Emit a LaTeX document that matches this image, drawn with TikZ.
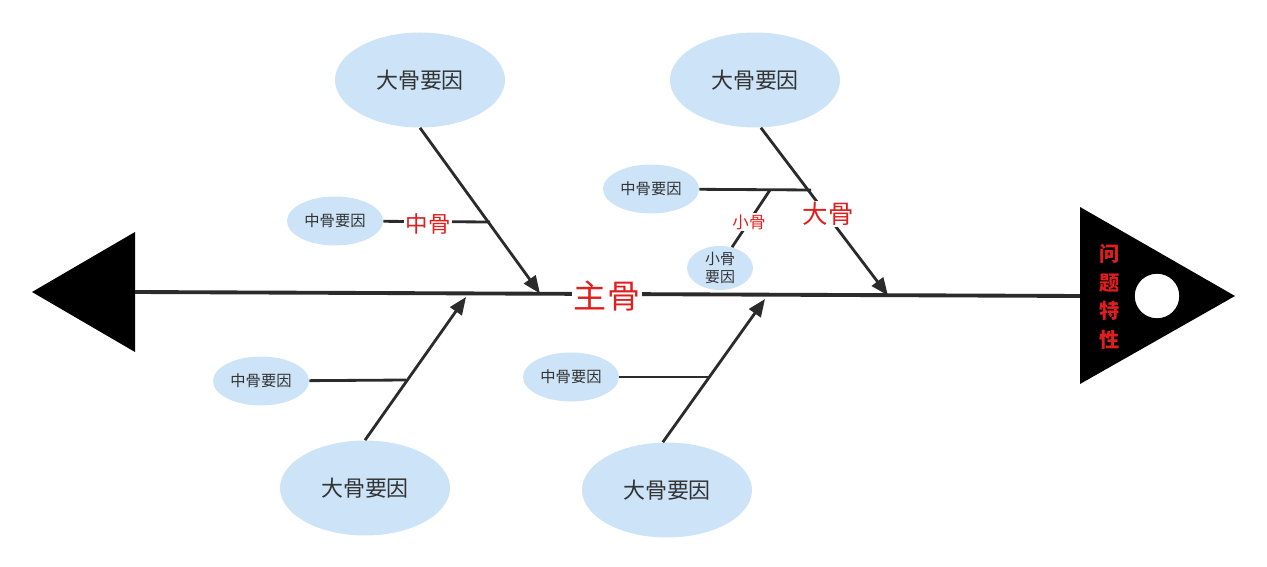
\documentclass[tikz,border=0pt]{standalone}
\usepackage{fontspec}
\setmainfont{Noto Sans CJK SC}
\usetikzlibrary{arrows.meta,shapes.geometric}
\definecolor{txt}{HTML}{333333}
\definecolor{bone}{HTML}{2B2B2B}
\definecolor{cred}{HTML}{E01E1E}
\definecolor{ellfill}{HTML}{CCE3F8}
\tikzset{
  bigcause/.style={ellipse, fill=ellfill, inner sep=0pt, minimum width=170\pxu, minimum height=95\pxu, text=txt, font=\fontsize{12.5}{15}\selectfont},
  midcause/.style={ellipse, fill=ellfill, inner sep=0pt, minimum width=96\pxu, minimum height=49\pxu, text=txt, font=\fontsize{8.7}{10}\selectfont},
  smallcause/.style={ellipse, fill=ellfill, inner sep=0pt, minimum width=66\pxu, minimum height=40\pxu, text=txt, align=center, font=\fontsize{8.5}{10}\selectfont},
  boneline/.style={draw=bone, line width=1.6pt},
  bonearrow/.style={boneline, -{Triangle[length=10pt,width=8pt]}},
  bonelabel/.style={fill=white, inner sep=1pt, text=cred},
}
\newlength{\pxu}
\setlength{\pxu}{0.02cm}
\begin{document}
\begin{tikzpicture}[x=0.02cm,y=-0.02cm]
\useasboundingbox (0,0) rectangle (1267,567);
% head and tail
\fill[black] (32,292) -- (135,232) -- (135,352) -- cycle;
\fill[black] (1080,207) -- (1080,384) -- (1235,296) -- cycle;
\node[circle, fill=white, draw=black, line width=0.8pt, minimum size=46\pxu, inner sep=0pt] (eye) at (1157,296) {};
\node[text=cred, font=\fontsize{11.5}{16.2}\selectfont\bfseries, align=center] (problem) at (1110,297) {问\\题\\特\\性};
% main bone
\coordinate (tail) at (135,292);
\coordinate (head) at (1080,296);
\draw[boneline, line width=2.2pt] (tail) -- (head);
\node[bonelabel, text=cred, font=\fontsize{18.8}{20}\selectfont] (main) at (607,296) {主骨};
% junctions on main bone
\coordinate (jTL) at (540,293.5);
\coordinate (jTR) at (888,295.5);
\coordinate (jBL) at (466,297);
\coordinate (jBR) at (765,299);
% big causes
\node[bigcause] (bTL) at (420,80) {大骨要因};
\node[bigcause] (bTR) at (755,80) {大骨要因};
\node[bigcause] (bBL) at (365,488) {大骨要因};
\node[bigcause] (bBR) at (667,490) {大骨要因};
% mid causes
\node[midcause] (mTL) at (335,221) {中骨要因};
\node[midcause] (mTR) at (651,189) {中骨要因};
\node[midcause] (mBL) at (261,381) {中骨要因};
\node[midcause] (mBR) at (571,377) {中骨要因};
% small cause
\node[smallcause] (sTR) at (720,268) {小骨\\要因};
% junction points on big bones
\coordinate (kTL) at (490,222);
\coordinate (kTR) at (811,190);
\coordinate (kBL) at (406,380);
\coordinate (kBR) at (708,377);
\coordinate (kS) at (770,190);
% big bones
\draw[bonearrow] (bTL.south) -- (jTL);
\draw[bonearrow] (bTR.-83) -- (jTR);
\draw[bonearrow] (bBL.north) -- (jBL);
\draw[bonearrow] (bBR.95) -- (jBR);
% mid bones
\draw[boneline] (mTL) -- (kTL);
\draw[boneline] (mTR) -- (kTR);
\draw[boneline] (mBL) -- (kBL);
\draw[boneline] (mBR) -- (kBR);
% small bone
\draw[boneline] (sTR.60) -- (kS);
% labels
\node[bonelabel, font=\fontsize{12.8}{14}\selectfont] (lmid) at (428,224) {中骨};
\node[bonelabel, font=\fontsize{14.5}{16}\selectfont] (lbig) at (828,214) {大骨};
\node[bonelabel, font=\fontsize{9.4}{11}\selectfont] (lsmall) at (749,222) {小骨};
\end{tikzpicture}
\end{document}
